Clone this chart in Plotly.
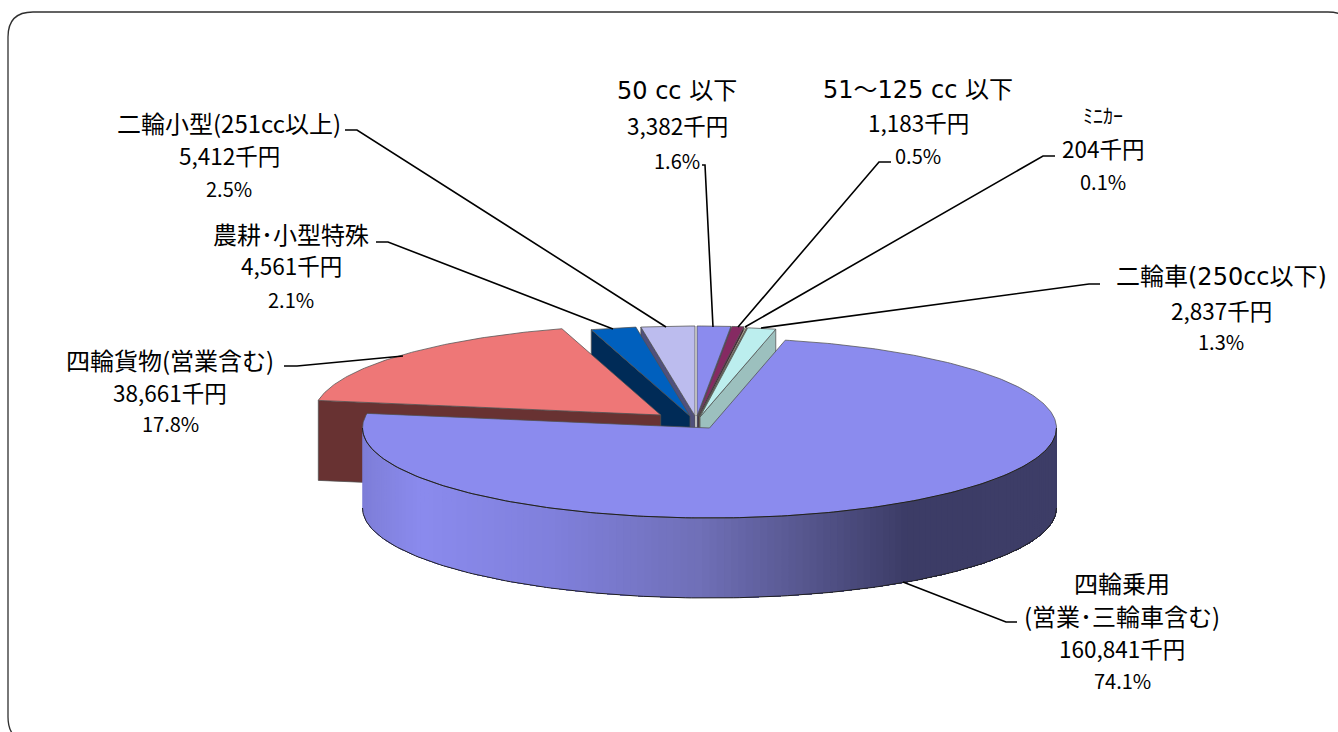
import math
import plotly.graph_objects as go

# ---- data ----
CATEGORIES = ["50 cc 以下", "51～125 cc 以下", "ﾐﾆｶｰ", "二輪車(250cc以下)",
              "四輪乗用", "四輪貨物(営業含む)", "農耕･小型特殊", "二輪小型(251cc以上)"]
VALUES = [3382, 1183, 204, 2837, 160841, 38661, 4561, 5412]
NAME_LINES = {"四輪乗用": ["四輪乗用", "(営業･三輪車含む)"]}

# ---- geometry & style ----
RX, RY, DEPTH = 347, 90, 80
CENTERS = [(697, 416), (698, 416), (699, 416.5), (700, 417),
           (709.5, 428), (660.7, 415), (690, 416), (695, 416)]
TOP = ["#8B8BEE", "#852A62", "#EEEEBE", "#BCEEEE", "#8B8BEE", "#EE7777", "#0060BE", "#BCBCEE"]
SIDE = ["#46467A", "#431530", "#77775F", "#9CC0BE", "#8B8BEE", "#683232", "#002B57", "#50507C"]
EDGE = "#505050"
DRAW_ORDER = [7, 6, 5, 0, 1, 2, 3, 4]
LABEL_X = [677, 918, 1103, 1221, 1122, 170, 291, 229]
LABEL_Y = [[91, 125, 160], [90, 122, 155], [115, 148, 181], [277, 310, 341],
           [582, 615, 648, 680], [359, 392, 423], [233, 265, 299], [122, 155, 188]]
LEADERS = [
    [(702, 165), (705, 165), (713, 327)],
    [(891, 162), (879, 162), (738, 327)],
    [(1055, 156), (1043, 156), (745, 327)],
    [(1100, 284), (1089, 284), (761, 328)],
    [(1017, 622), (1006, 622), (903, 582)],
    [(284, 366), (297, 366), (403, 356)],
    [(376, 242), (388, 242), (613, 329)],
    [(345, 130), (357, 130), (666, 327)],
]
RIM_STOPS = [(362, (0x7E, 0x7E, 0xD8)), (418, (0x8B, 0x8B, 0xEE)), (550, (0x80, 0x80, 0xDC)),
             (695, (0x70, 0x70, 0xB8)), (800, (0x57, 0x57, 0x8F)), (905, (0x3C, 0x3C, 0x66)),
             (1056, (0x3E, 0x3E, 0x68))]
FONT = "Noto Sans CJK JP"
WIDE = "DejaVu Sans, Noto Sans CJK JP"

total = sum(VALUES)
fig = go.Figure()


def pt(c, deg):
    r = math.radians(deg)
    return c[0] + RX * math.sin(r), c[1] - RY * math.cos(r)


def poly(xs, ys, fill, line=EDGE, w=0.75):
    fig.add_trace(go.Scatter(x=xs, y=ys, mode="lines", fill="toself", fillcolor=fill,
                             line=dict(color=line, width=w), hoverinfo="skip", showlegend=False))


def rim_color(x):
    for (x0, c0), (x1, c1) in zip(RIM_STOPS, RIM_STOPS[1:]):
        if x <= x1:
            t = max(0, (x - x0) / (x1 - x0))
            return "rgb(%d,%d,%d)" % tuple(c0[k] + (c1[k] - c0[k]) * t for k in range(3))
    return "rgb(%d,%d,%d)" % RIM_STOPS[-1][1]


starts, acc = [], 0.0
for v in VALUES:
    starts.append(acc)
    acc += v / total * 360

for i in DRAW_ORDER:
    c = CENTERS[i]
    a0 = starts[i]
    a1 = a0 + VALUES[i] / total * 360
    n = max(3, int((a1 - a0) * 1.5))
    angs = [a0 + (a1 - a0) * k / n for k in range(n + 1)]
    arc = [pt(c, a) for a in angs]

    if i == 4:
        # front rim: painted from the left, each strip reaching on to the right end
        strips = 150
        steps = [270.0 - 180.0 * k / strips for k in range(strips + 1)]
        for k in range(strips):
            p0 = pt(c, steps[k])
            run = [pt(c, a) for a in steps[k:]]
            xs_ = [p[0] for p in run] + [p[0] for p in reversed(run)]
            ys_ = [p[1] for p in run] + [p[1] + DEPTH for p in reversed(run)]
            fig.add_trace(go.Scatter(x=xs_, y=ys_, mode="none", fill="toself", fillcolor=rim_color(p0[0]),
                                     hoverinfo="skip", showlegend=False))
        out = [pt(c, 90 + k) for k in range(181)]
        fig.add_trace(go.Scatter(x=[p[0] for p in out], y=[p[1] + DEPTH for p in out], mode="lines",
                                 line=dict(color="#202020", width=1), hoverinfo="skip", showlegend=False))
    else:
        # flat face below the edge that faces the viewer
        edge_ang = a0 if a0 + (a1 - a0) / 2 > 180 else a1
        e = pt(c, edge_ang)
        poly([c[0], e[0], e[0], c[0], c[0]],
             [c[1], e[1], e[1] + DEPTH, c[1] + DEPTH, c[1]], SIDE[i])

    xs = [c[0]] + [p[0] for p in arc] + [c[0]]
    ys = [c[1]] + [p[1] for p in arc] + [c[1]]
    poly(xs, ys, TOP[i], line=EDGE)
    if i == 4:
        front = [pt(c, 90 + k) for k in range(181)]
        fig.add_trace(go.Scatter(x=[p[0] for p in front], y=[p[1] for p in front], mode="lines",
                                 line=dict(color="#202020", width=1), hoverinfo="skip", showlegend=False))

shapes = []
for pts in LEADERS:
    shapes.append(dict(type="path", path="M" + " L".join(f"{x},{y}" for x, y in pts),
                       line=dict(color="black", width=1.6), layer="above"))
# rounded chart border
shapes.append(dict(type="path",
                   path="M33,742 Q8,742 8,717 L8,37 Q8,12 33,12 L1328,12 Q1353,12 1353,37",
                   line=dict(color="#303030", width=1.3), layer="below"))

annotations = []
for i, cat in enumerate(CATEGORIES):
    names = NAME_LINES.get(cat, [cat])
    lines = names + [f"{VALUES[i]:,}千円", f"{VALUES[i] / total * 100:.1f}%"]
    n_names = len(names)
    for j, (txt, y) in enumerate(zip(lines, LABEL_Y[i])):
        if j < n_names:
            family, size = (WIDE if i in (0, 1, 3) else FONT), 24
            if i == 2:
                size = 20
        elif j == n_names:
            family, size = FONT, 22.5
        else:
            family, size = FONT, 20
        annotations.append(dict(x=LABEL_X[i], y=y, text=txt, showarrow=False, xanchor="center",
                                yanchor="middle", font=dict(family=family, size=size, color="black")))

fig.update_layout(
    width=1338, height=732, margin=dict(l=0, r=0, t=0, b=0),
    paper_bgcolor="white", plot_bgcolor="white", showlegend=False,
    xaxis=dict(range=[0, 1338], visible=False, fixedrange=True),
    yaxis=dict(range=[732, 0], visible=False, fixedrange=True),
    shapes=shapes, annotations=annotations,
)
fig.write_html("out.html", config={"displayModeBar": False},
               post_script="document.body.style.margin='0';")
